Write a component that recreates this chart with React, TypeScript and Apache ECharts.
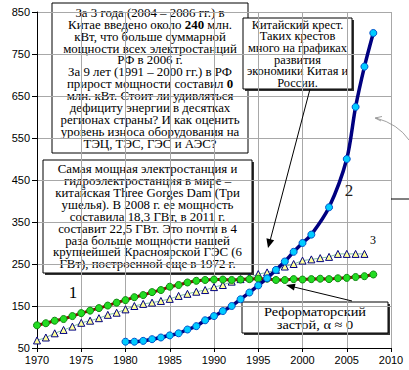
import React, { useEffect, useRef } from "react";
import * as echarts from "echarts";

const xTicks = [1970, 1975, 1980, 1985, 1990, 1995, 2000, 2005, 2010];
const yTicks = [50, 150, 250, 350, 450, 550, 650, 750, 850];

// Series 1 (Russia) – 1970..2008
const years1 = [1970,1971,1972,1973,1974,1975,1976,1977,1978,1979,1980,1981,1982,1983,1984,1985,1986,1987,1988,1989,1990,1991,1992,1993,1994,1995,1996,1997,1998,1999,2000,2001,2002,2003,2004,2005,2006,2007,2008];
const values1 = [104,109,115,119,126,133,139,145,151,158,164,171,176,183,188,196,200,206,210,212,213,213,212,213,214,215,215,212,212,214,213,214,215,214,216,217,219,221,225];

// Series 2 (China)
const years2 = [1980,1981,1982,1983,1984,1985,1986,1987,1988,1989,1990,1991,1992,1993,1994,1995,1996,1997,1998,1999,2000,2001,2003,2005,2006,2007,2008];
const values2 = [65,65,67,71,75,80,85,94,102,116,126,138,150,166,182,199,216,236,256,279,300,320,385,500,624,720,800];

// Series 3 – 1970..2007
const years3 = [1970,1971,1972,1973,1974,1975,1976,1977,1978,1979,1980,1981,1982,1983,1984,1985,1986,1987,1988,1989,1990,1991,1992,1993,1994,1995,1996,1997,1998,1999,2000,2001,2002,2003,2004,2005,2006,2007];
const values3 = [68,75,85,93,101,110,115,121,129,134,142,150,155,158,162,167,174,179,184,188,195,200,208,214,218,226,230,236,244,250,258,261,264,267,274,274,274,274];

const textA = [
  "За 3 года (2004 – 2006 гг.) в",
  "Китае введено около {b|240} млн.",
  "кВт, что больше суммарной",
  "мощности всех электростанций",
  "РФ в 2006 г.",
  "За 9 лет (1991 – 2000 гг.) в РФ",
  "прирост мощности составил {b|0}",
  "млн. кВт. Стоит ли удивляться",
  "дефициту энергии в десятках",
  "регионах страны? И как оценить",
  "уровень износа оборудования на",
  "ТЭЦ, ТЭС, ГЭС и АЭС?",
];
const textB = [
  "Самая мощная электростанция и",
  "гидроэлектростанция в мире –",
  "китайская Three Gorges Dam (Три",
  "ушелья). В 2008 г. ее мощность",
  "составила 18,3 ГВт, в 2011 г.",
  "составит 22,5 ГВт. Это почти в 4",
  "раза больше мощности нашей",
  "крупнейшей Красноярской ГЭС (6",
  "ГВт), построенной еще в 1972 г.",
];
const textC = [
  "Китайский крест.",
  "Таких крестов",
  "много на графиках",
  "развития",
  "экономики Китая и",
  "России.",
];
const textD = ["Реформаторский", "застой, α ≈ 0"];

const SERIF = "'Liberation Serif', 'Times New Roman', serif";
const SANS = "'Liberation Sans', Arial, sans-serif";

function box(x: number, y: number, w: number, h: number, lines: string[], fs: number, lh: number, shadow: boolean, sx: number) {
  const children: any[] = [];
  if (shadow) {
    children.push({ type: "rect", shape: { x: x + 2, y: y + 2, width: w, height: h }, style: { fill: "#333" } });
  }
  children.push({ type: "rect", shape: { x, y, width: w, height: h }, style: { fill: "#fff", stroke: "#000", lineWidth: 1 } });
  const totalH = lines.length * lh;
  children.push({
    type: "text",
    x: x + w / 2,
    y: y + (h - totalH) / 2 + 0.5,
    scaleX: sx,
    style: {
      text: lines.join("\n"),
      fontSize: fs,
      fontFamily: SERIF,
      fill: "#000",
      align: "center",
      verticalAlign: "top",
      lineHeight: lh,
      rich: { b: { fontWeight: "bold", fontSize: fs, fontFamily: SERIF, lineHeight: lh } },
    },
  });
  return { type: "group", children };
}

function arrowHead(tx: number, ty: number, fx: number, fy: number, len: number, half: number) {
  const dx = tx - fx, dy = ty - fy;
  const L = Math.hypot(dx, dy);
  const ux = dx / L, uy = dy / L;
  const bx = tx - ux * len, by = ty - uy * len;
  return [[tx, ty], [bx - uy * half, by + ux * half], [bx + uy * half, by - ux * half]];
}

export default function App() {
  const ref = useRef<HTMLDivElement>(null);
  useEffect(() => {
    const chart = echarts.init(ref.current!, null, { renderer: "svg" });
    const option: any = {
      animation: false,
      backgroundColor: "#fff",
      grid: { left: 37, top: 12, right: 18, bottom: 22 },
      xAxis: {
        type: "value",
        min: xTicks[0],
        max: xTicks[xTicks.length - 1],
        interval: 5,
        axisLine: { lineStyle: { color: "#000", width: 1 } },
        axisTick: { show: true, length: 4, lineStyle: { color: "#000" } },
        axisLabel: { color: "#000", fontFamily: SANS, fontSize: 11, margin: 6, formatter: (v: number) => String(v) },
        splitLine: { show: true, lineStyle: { color: "#a8a8a8", width: 1 } },
      },
      yAxis: {
        type: "value",
        min: yTicks[0],
        max: yTicks[yTicks.length - 1],
        interval: 100,
        axisLine: { show: true, lineStyle: { color: "#000", width: 1 } },
        axisTick: { show: true, length: 5, lineStyle: { color: "#000" } },
        axisLabel: { color: "#000", fontFamily: SANS, fontSize: 11, margin: 7, formatter: (v: number) => String(v) },
        splitLine: { show: true, lineStyle: { color: "#a8a8a8", width: 1 } },
      },
      series: [
        {
          type: "line",
          data: years3.map((y, i) => [y, values3[i]]),
          symbol: "triangle",
          symbolSize: 7,
          lineStyle: { color: "#7fbf9f", width: 1 },
          itemStyle: { color: "#ffff99", borderColor: "#000080", borderWidth: 1 },
          z: 2,
        },
        {
          type: "line",
          data: years1.map((y, i) => [y, values1[i]]),
          symbol: "circle",
          symbolSize: 7,
          lineStyle: { color: "#8b0000", width: 3 },
          itemStyle: { color: "#22dd22", borderColor: "#118811", borderWidth: 1 },
          z: 3,
        },
        {
          type: "line",
          data: years2.map((y, i) => [y, values2[i]]),
          smooth: 0.3,
          symbol: "circle",
          symbolSize: 7,
          lineStyle: { color: "#000080", width: 3.5 },
          itemStyle: { color: "#00ccff", borderColor: "#0055cc", borderWidth: 1 },
          z: 4,
        },
      ],
      graphic: [
        // arrows
        { type: "line", shape: { x1: 310, y1: 89, x2: 270, y2: 241 }, style: { stroke: "#000", lineWidth: 1 }, z: 10 },
        { type: "polygon", shape: { points: arrowHead(268, 248, 310, 89, 9, 4) }, style: { fill: "#000" }, z: 10 },
        { type: "line", shape: { x1: 352, y1: 301, x2: 294, y2: 287 }, style: { stroke: "#000", lineWidth: 1 }, z: 10 },
        { type: "polygon", shape: { points: arrowHead(286, 285, 352, 301, 9, 3.5) }, style: { fill: "#000" }, z: 10 },
        { type: "bezierCurve", shape: { x1: 409, y1: 140, cpx1: 398, cpy1: 124, x2: 376, y2: 118 }, style: { stroke: "#888", lineWidth: 0.8, fill: null }, z: 10 },
        { type: "polyline", shape: { points: [[382, 116.5], [375, 118], [381, 121]] }, style: { stroke: "#888", lineWidth: 0.8, fill: null }, z: 10 },
        { type: "line", shape: { x1: 391, y1: 199, x2: 409, y2: 199 }, style: { stroke: "#000", lineWidth: 1 }, z: 10 },
        // boxes
        { ...box(52, 3, 196, 150, textA, 11.5, 11.9, false, 1.12), z: 20 },
        { ...box(43, 160, 209, 113, textB, 11.5, 11.9, true, 1.12), z: 20 },
        { ...box(243, 18, 109, 71, textC, 11.5, 11.7, true, 1.08), z: 20 },
        { ...box(242, 302, 146, 31, textD, 12.5, 13, true, 1.15), z: 20 },
        // series labels
        { type: "text", x: 73, y: 292, style: { text: "1", fontSize: 17, fontFamily: SERIF, fill: "#000", align: "center", verticalAlign: "middle" }, z: 20 },
        { type: "text", x: 349, y: 190, style: { text: "2", fontSize: 17, fontFamily: SERIF, fill: "#222", align: "center", verticalAlign: "middle" }, z: 20 },
        { type: "text", x: 373, y: 240, style: { text: "3", fontSize: 12, fontFamily: SERIF, fill: "#000", align: "center", verticalAlign: "middle" }, z: 20 },
      ],
    };
    chart.setOption(option);
    return () => chart.dispose();
  }, []);
  return <div ref={ref} style={{ position: "absolute", left: 0, top: 0, width: 409, height: 370 }} />;
}
